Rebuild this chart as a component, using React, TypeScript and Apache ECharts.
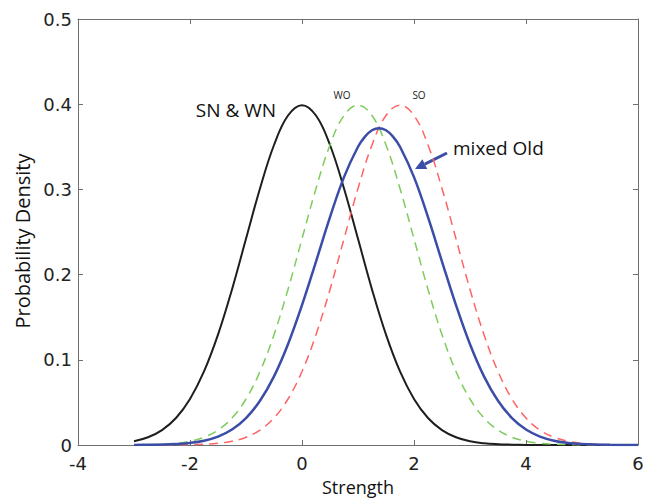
import React, { useEffect, useRef } from "react";
import * as echarts from "echarts";

// x grid (Strength)
const strength = [
  -3, -2.75, -2.5, -2.25, -2, -1.75, -1.5, -1.25, -1, -0.75, -0.5, -0.25, 0, 0.25, 0.5, 0.75, 1,
  1.25, 1.5, 1.75, 2, 2.25, 2.5, 2.75, 3, 3.25, 3.5, 3.75, 4, 4.25, 4.5, 4.75, 5, 5.25, 5.5, 5.75, 6,
];
// SN & WN (black)
const snwn = [
  0.0044, 0.0091, 0.0175, 0.0317, 0.054, 0.0863, 0.1295, 0.1826, 0.242, 0.3011, 0.3521, 0.3867,
  0.3989, 0.3867, 0.3521, 0.3011, 0.242, 0.1826, 0.1295, 0.0863, 0.054, 0.0317, 0.0175, 0.0091,
  0.0044, 0.002, 0.0009, 0.0004, 0.0001, 0, 0, 0, 0, 0, 0, 0, 0,
];
// WO (green dashed)
const wo = [
  0.0001, 0.0004, 0.0009, 0.002, 0.0044, 0.0091, 0.0175, 0.0317, 0.054, 0.0863, 0.1295, 0.1826,
  0.242, 0.3011, 0.3521, 0.3867, 0.3989, 0.3867, 0.3521, 0.3011, 0.242, 0.1826, 0.1295, 0.0863,
  0.054, 0.0317, 0.0175, 0.0091, 0.0044, 0.002, 0.0009, 0.0004, 0.0001, 0, 0, 0, 0,
];
// SO (red dashed)
const so = [
  0, 0, 0, 0.0001, 0.0004, 0.0009, 0.002, 0.0044, 0.0091, 0.0175, 0.0317, 0.054, 0.0863, 0.1295,
  0.1826, 0.242, 0.3011, 0.3521, 0.3867, 0.3989, 0.3867, 0.3521, 0.3011, 0.242, 0.1826, 0.1295,
  0.0863, 0.054, 0.0317, 0.0175, 0.0091, 0.0044, 0.002, 0.0009, 0.0004, 0.0001, 0,
];
// mixed Old (blue) has a finer grid around its peak
const mixedX = [
  -3, -2.75, -2.5, -2.25, -2, -1.75, -1.5, -1.25, -1, -0.75, -0.5, -0.25, 0, 0.25, 0.5, 0.75, 1,
  1.125, 1.25, 1.375, 1.5, 1.625, 1.75, 2, 2.25, 2.5, 2.75, 3, 3.25, 3.5, 3.75, 4, 4.25, 4.5, 4.75,
  5, 5.25, 5.5, 5.75, 6,
];
const mixedOld = [
  0.0001, 0.0002, 0.0005, 0.0011, 0.0024, 0.005, 0.0098, 0.0181, 0.0316, 0.0519, 0.0806, 0.1183,
  0.1642, 0.2153, 0.2674, 0.3144, 0.35, 0.362, 0.3694, 0.3719, 0.3694, 0.362, 0.35, 0.3144, 0.2674,
  0.2153, 0.1642, 0.1183, 0.0806, 0.0519, 0.0316, 0.0181, 0.0098, 0.005, 0.0024, 0.0011, 0.0005,
  0.0002, 0.0001, 0,
];

const pairs = (xs: number[], ys: number[]) => xs.map((x, i) => [x, ys[i]]);

export default function App() {
  const ref = useRef<HTMLDivElement>(null);
  useEffect(() => {
    if (!ref.current) return;
    const chart = echarts.init(ref.current, undefined, { renderer: "svg" });
    const axisGray = "#6f6f6f";
    const tickFont = { fontFamily: "DejaVu Sans", fontSize: 18, color: "#222" };
    const boxAxis = {
      axisLine: { show: true, onZero: false, lineStyle: { color: axisGray, width: 1 } },
      axisTick: { show: true, inside: true, length: 5, lineStyle: { color: axisGray } },
      splitLine: { show: false },
    };
    // arrow geometry
    const ax0 = 447, ay0 = 153, ax1 = 415, ay1 = 169;
    const dx = ax1 - ax0, dy = ay1 - ay0;
    const L = Math.sqrt(dx * dx + dy * dy);
    const ux = dx / L, uy = dy / L;
    const hl = 11, hw = 5.5;
    const bx = ax1 - ux * hl, by = ay1 - uy * hl;
    const px = -uy, py = ux;
    const blue = "#3c4da8";

    chart.setOption({
      animation: false,
      backgroundColor: "#fff",
      grid: { left: 78, right: 16, top: 19, bottom: 53, containLabel: false },
      xAxis: [
        {
          type: "value", min: -4, max: 6, interval: 2, position: "bottom",
          ...boxAxis,
          axisLabel: { ...tickFont, margin: 9 },
          name: "Strength", nameLocation: "middle", nameGap: 33,
          nameTextStyle: { fontFamily: "Open Sans", fontSize: 18, color: "#111" },
        },
        {
          type: "value", min: -4, max: 6, interval: 2, position: "top",
          ...boxAxis, axisLabel: { show: false },
        },
      ],
      yAxis: [
        {
          type: "value", min: 0, max: 0.5, interval: 0.1, position: "left",
          ...boxAxis,
          axisLabel: { ...tickFont, margin: 6 },
        },
        {
          type: "value", min: 0, max: 0.5, interval: 0.1, position: "right",
          ...boxAxis, axisLabel: { show: false },
        },
      ],
      series: [
        {
          name: "SN & WN", type: "line", data: pairs(strength, snwn), smooth: 0.4, symbol: "none",
          lineStyle: { color: "#1e1e1e", width: 2 },
        },
        {
          name: "WO", type: "line", data: pairs(strength, wo), smooth: 0.4, symbol: "none",
          lineStyle: { color: "#7dcc5c", width: 1.5, type: [9, 6] },
        },
        {
          name: "SO", type: "line", data: pairs(strength, so), smooth: 0.4, symbol: "none",
          lineStyle: { color: "#ff6464", width: 1.5, type: [9, 6] },
        },
        {
          name: "mixed Old", type: "line", data: pairs(mixedX, mixedOld), smooth: 0.4, symbol: "none",
          lineStyle: { color: blue, width: 2.5 },
        },
      ],
      graphic: [
        {
          type: "text", x: 22, y: 241, rotation: Math.PI / 2,
          style: { text: "Probability Density", fontFamily: "Open Sans", fontSize: 20, fill: "#111", align: "center", verticalAlign: "middle" },
        },
        {
          type: "text", x: 236, y: 110,
          style: { text: "SN & WN", fontFamily: "Open Sans", fontSize: 19, fill: "#111", align: "center", verticalAlign: "middle" },
        },
        {
          type: "text", x: 342, y: 95,
          style: { text: "WO", fontFamily: "Open Sans", fontSize: 10, fill: "#222", align: "center", verticalAlign: "middle" },
        },
        {
          type: "text", x: 419, y: 95,
          style: { text: "SO", fontFamily: "Open Sans", fontSize: 10, fill: "#222", align: "center", verticalAlign: "middle" },
        },
        {
          type: "text", x: 453, y: 148,
          style: { text: "mixed Old", fontFamily: "Open Sans", fontSize: 19, fill: "#111", align: "left", verticalAlign: "middle" },
        },
        {
          type: "line",
          shape: { x1: ax0, y1: ay0, x2: bx, y2: by },
          style: { stroke: blue, lineWidth: 3 },
        },
        {
          type: "polygon",
          shape: { points: [[ax1, ay1], [bx + px * hw, by + py * hw], [bx - px * hw, by - py * hw]] },
          style: { fill: blue },
        },
      ],
    });
    return () => chart.dispose();
  }, []);
  return (
    <div
      ref={ref}
      style={{ position: "fixed", left: 0, top: 0, width: 654, height: 501, background: "#fff" }}
    />
  );
}
